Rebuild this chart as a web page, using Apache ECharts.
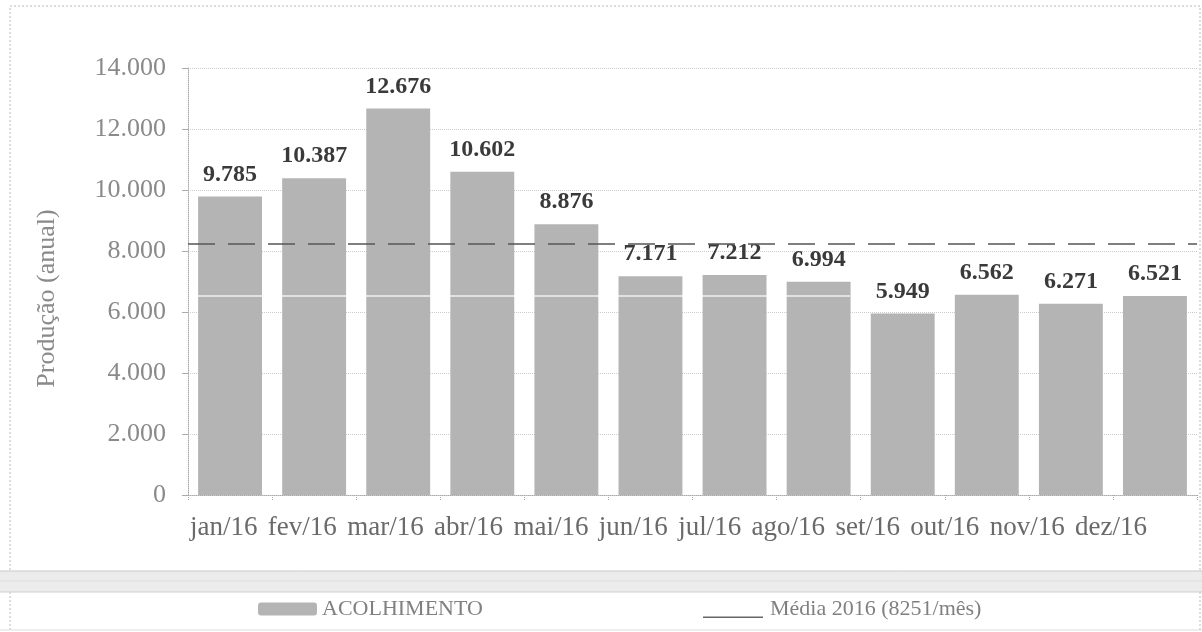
<!DOCTYPE html>
<html><head><meta charset="utf-8">
<script src="https://cdn.jsdelivr.net/npm/echarts@6/dist/echarts.min.js"></script>
<style>html,body{margin:0;padding:0;background:#fff}#c{width:1202px;height:632px}</style>
</head><body><div id="c"></div>
<script>
var categories = ['jan/16','fev/16','mar/16','abr/16','mai/16','jun/16','jul/16','ago/16','set/16','out/16','nov/16','dez/16'];
var acolhimento = [9785,10387,12676,10602,8876,7171,7212,6994,5949,6562,6271,6521];
var media = 8251;
var yTicks = {min:0, max:14000, interval:2000};

function fmt(v){ return String(v).replace(/\B(?=(\d{3})+(?!\d))/g,'.'); }
var serif = '"Liberation Serif","DejaVu Serif",serif';

// layout constants
var gridLeft = 188, gridRight = 5, W = 1202;
var xFont = 27;
// x labels in the reference read as one continuous line from ~190 to ~1147
var lineStart = 190, lineEnd = 1147;
var ctx = document.createElement('canvas').getContext('2d');
ctx.font = xFont + 'px ' + serif;
var widths = categories.map(function(c){ return ctx.measureText(c).width; });
var totalW = widths.reduce(function(a,b){return a+b;},0);
var gap = (lineEnd - lineStart - totalW) / (categories.length - 1);
var band = (W - gridLeft - gridRight) / categories.length;
var rich = {};
var cursor = lineStart;
categories.forEach(function(c, i){
  var desired = cursor + widths[i]/2;
  cursor += widths[i] + gap;
  var actual = gridLeft + (i + 0.5) * band;
  var s = desired - actual;
  rich['s'+i] = {fontFamily:serif, fontSize:xFont, color:'#6a6a6a',
    padding: s < 0 ? [0, -2*s, 0, 0] : [0, 0, 0, 2*s]};
});

var chart = echarts.init(document.getElementById('c'));
chart.setOption({
  animation:false,
  backgroundColor:'#fff',
  textStyle:{fontFamily:serif},
  graphic:[
    {type:'rect', shape:{x:10,y:6,width:1190,height:630}, style:{fill:'none',stroke:'#bbb',lineWidth:1,lineDash:[2,2]}},
    {type:'rect', shape:{x:0,y:571,width:1202,height:21}, style:{fill:'#ececec'}},
    {type:'line', shape:{x1:0,y1:571,x2:1202,y2:571}, style:{stroke:'#c8c8c8',lineWidth:1}},
    {type:'line', shape:{x1:0,y1:581,x2:1202,y2:581}, style:{stroke:'#dedede',lineWidth:1}},
    {type:'line', shape:{x1:0,y1:592,x2:1202,y2:592}, style:{stroke:'#cfcfcf',lineWidth:1}},
    {type:'line', shape:{x1:0,y1:630,x2:1202,y2:630}, style:{stroke:'#dddddd',lineWidth:1}},
    {type:'line', z:100, shape:{x1:190,y1:296,x2:850,y2:296}, style:{stroke:'#ffffff',lineWidth:1.5,opacity:0.8}}
  ],
  grid:{left:gridLeft,right:gridRight,top:68,bottom:137},
  legend:[
    {data:['ACOLHIMENTO'], left:253, top:593, itemWidth:59, itemHeight:13, itemGap:4,
     textStyle:{fontFamily:serif,fontSize:22,color:'#808080'}},
    {data:['Média 2016 (8251/mês)'], left:698, top:593, itemWidth:64, itemHeight:18, itemGap:2,
     icon:'path://M0,0L0.1,0L0.1,0.1Z M0,16.5L60,16.5L60,18L0,18Z',
     textStyle:{fontFamily:serif,fontSize:22,color:'#808080'}}
  ],
  xAxis:{type:'category', data:categories,
    axisLine:{show:true,lineStyle:{color:'#aaa',type:'dotted'}},
    axisTick:{show:true,length:5,lineStyle:{color:'#aaa',type:'dotted'}},
    axisLabel:{interval:0, margin:19, fontFamily:serif, fontSize:xFont, color:'#6a6a6a',
      formatter:function(v, i){ return '{s' + i + '|' + v + '}'; }, rich:rich}},
  yAxis:{type:'value', min:yTicks.min, max:yTicks.max, interval:yTicks.interval,
    name:'Produção (anual)', nameLocation:'middle', nameGap:128, nameRotate:90,
    nameTextStyle:{fontFamily:serif,fontSize:26,color:'#8a8a8a',padding:[0,34,0,0]},
    axisLine:{show:true,lineStyle:{color:'#aaa',type:'dotted'}},
    axisTick:{show:true,length:6,lineStyle:{color:'#aaa'}},
    splitLine:{show:true,lineStyle:{color:'#cccccc',type:'dotted'}},
    axisLabel:{fontFamily:serif,fontSize:26,color:'#8a8a8a',margin:22,formatter:function(v){return fmt(v);}}},
  series:[
    {name:'ACOLHIMENTO', type:'bar', data:acolhimento, barCategoryGap:'24%',
     itemStyle:{color:'#b4b4b4'},
     label:{show:true,position:'top',distance:10,fontFamily:serif,fontSize:24,fontWeight:'bold',color:'#3a3a3a',
       formatter:function(p){return fmt(p.value);}},
     markLine:{silent:true,symbol:'none',label:{show:false},
       lineStyle:{color:'#555',type:[27,13],width:1.6},
       data:[{yAxis:media}]}},
    {name:'Média 2016 (8251/mês)', type:'line', data:[], itemStyle:{color:'#666'}, lineStyle:{color:'#666'}}
  ]
});
</script></body></html>
